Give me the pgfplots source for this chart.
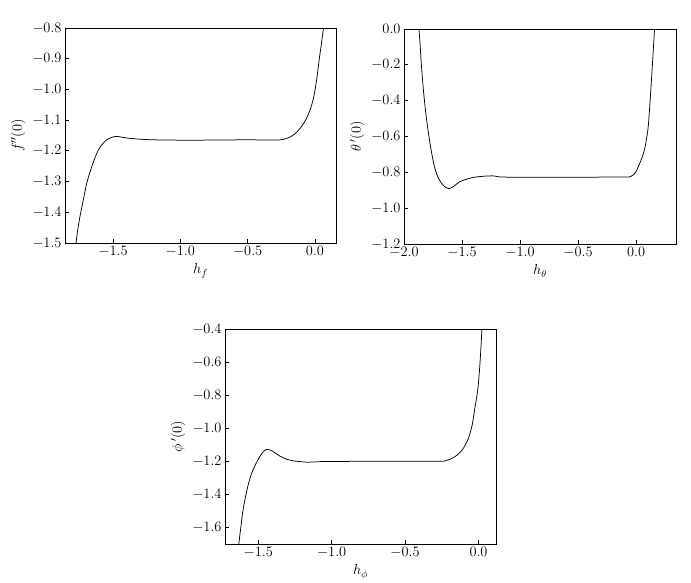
\documentclass[border=0pt]{standalone}
\usepackage{pgfplots}
\pgfplotsset{compat=1.18}
\pgfplotsset{myax/.style={
  scale only axis,
  axis line style={line width=0.8pt},
  tick align=inside, tick pos=left,
  major tick length=4pt,
  tick style={line width=0.8pt, black},
  ticklabel style={font=\fontsize{14}{16}\selectfont},
  label style={font=\fontsize{14.5}{17}\selectfont},
  yticklabel style={/pgf/number format/.cd, fixed, fixed zerofill, precision=1},
  xticklabel style={/pgf/number format/.cd, fixed, fixed zerofill, precision=1},
  clip=true,
}}
\tikzset{crv/.style={black, line width=0.75pt, smooth, tension=0.5, mark=none}}
\begin{document}
\begin{tikzpicture}
\useasboundingbox (0,-583pt) rectangle (691pt,0);
% plot 1
\begin{axis}[myax, at={(65pt,-243pt)}, anchor=south west,
  width=271pt, height=215pt,
  xmin=-1.856, xmax=0.156, ymin=-1.5, ymax=-0.8,
  xtick={-1.5,-1.0,-0.5,0.0},
  ytick={-1.5,-1.4,-1.3,-1.2,-1.1,-1.0,-0.9,-0.8},
  xlabel={$h_f$}, ylabel={$f''(0)$}]
\addplot[crv] coordinates {
(-1.774,-1.5) (-1.765,-1.468) (-1.745,-1.414) (-1.72,-1.36) (-1.695,-1.306)
(-1.665,-1.262) (-1.641,-1.231) (-1.62,-1.208) (-1.596,-1.188) (-1.57,-1.174)
(-1.546,-1.164) (-1.515,-1.157) (-1.485,-1.153) (-1.45,-1.154) (-1.40,-1.158)
(-1.30,-1.162) (-1.20,-1.164) (-1.054,-1.165) (-0.8,-1.165) (-0.5,-1.164)
(-0.30,-1.165) (-0.24,-1.163) (-0.19,-1.156) (-0.15,-1.145) (-0.111,-1.127) (-0.07,-1.10)
(-0.037,-1.067) (-0.015,-1.035) (0.0,-1.002) (0.015,-0.96) (0.032,-0.90)
(0.045,-0.86) (0.057,-0.82) (0.064,-0.8)
};
\end{axis}
% plot 2
\begin{axis}[myax, at={(404pt,-244pt)}, anchor=south west,
  width=272pt, height=215pt,
  xmin=-2.0, xmax=0.344, ymin=-1.2, ymax=0.0,
  xtick={-2.0,-1.5,-1.0,-0.5,0.0},
  ytick={-1.2,-1.0,-0.8,-0.6,-0.4,-0.2,0.0},
  xlabel={$h_\theta$}, ylabel={$\theta\,'(0)$}]
\addplot[crv] coordinates {
(-1.871,0.0) (-1.861,-0.09) (-1.848,-0.22) (-1.83,-0.36) (-1.81,-0.48)
(-1.789,-0.582) (-1.765,-0.68) (-1.739,-0.765) (-1.715,-0.815) (-1.695,-0.843)
(-1.665,-0.870) (-1.635,-0.886) (-1.615,-0.891) (-1.59,-0.886) (-1.56,-0.872)
(-1.518,-0.852) (-1.46,-0.838) (-1.40,-0.828) (-1.30,-0.821) (-1.224,-0.820)
(-1.17,-0.826) (-1.0,-0.827) (-0.5,-0.827) (-0.10,-0.826) (-0.045,-0.823)
(-0.015,-0.81) (0.008,-0.785) (0.03,-0.752) (0.050,-0.720) (0.07,-0.68)
(0.087,-0.625) (0.106,-0.536) (0.126,-0.35) (0.144,-0.164) (0.159,0.0)
};
\end{axis}
% plot 3
\begin{axis}[myax, at={(225pt,-544pt)}, anchor=south west,
  width=271pt, height=215pt,
  xmin=-1.726, xmax=0.119, ymin=-1.7, ymax=-0.4,
  xtick={-1.5,-1.0,-0.5,0.0},
  ytick={-1.6,-1.4,-1.2,-1.0,-0.8,-0.6,-0.4},
  xlabel={$h_\phi$}, ylabel={$\phi\,'(0)$}]
\addplot[crv] coordinates {
(-1.632,-1.7) (-1.617,-1.59) (-1.603,-1.493) (-1.576,-1.372) (-1.555,-1.30)
(-1.535,-1.251) (-1.51,-1.205) (-1.489,-1.171) (-1.465,-1.142) (-1.443,-1.128)
(-1.42,-1.131) (-1.39,-1.146) (-1.353,-1.168) (-1.31,-1.186) (-1.262,-1.197)
(-1.171,-1.205) (-1.10,-1.203) (-1.034,-1.201) (-0.7,-1.200) (-0.28,-1.200)
(-0.22,-1.195) (-0.185,-1.184) (-0.159,-1.171) (-0.13,-1.15) (-0.102,-1.12) (-0.085,-1.092)
(-0.068,-1.06) (-0.043,-0.98) (-0.025,-0.879) (-0.007,-0.779) (0.004,-0.68)
(0.012,-0.577) (0.018,-0.49) (0.023,-0.4)
};
\end{axis}
\end{tikzpicture}
\end{document}
